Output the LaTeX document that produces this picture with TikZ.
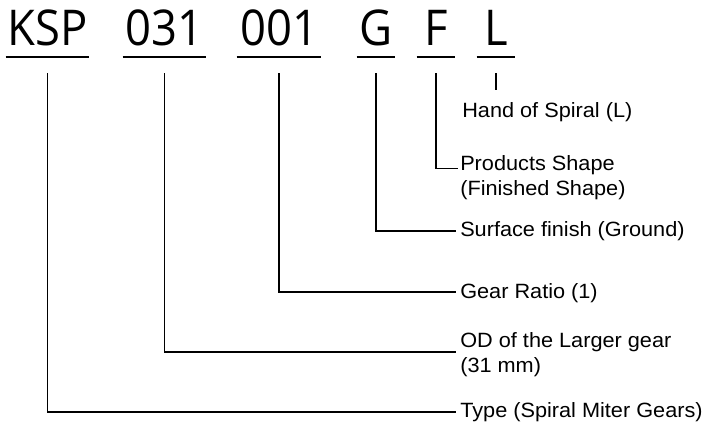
\documentclass[tikz,border=0pt]{standalone}
\usepackage{fontspec}
\setmainfont{Liberation Sans}[FakeStretch=1.05]
\newfontfamily\codefont[FakeStretch=0.92]{Open Sans}
\usepackage{tikz}

\tikzset{
  code/.style={anchor=base, inner xsep=0pt, inner ysep=0pt,
    font=\codefont\fontsize{37}{40}\selectfont},
  uline/.style={line width=0.9pt},
  lead/.style={line width=0.8pt},
  desc/.style={anchor=base west, inner sep=0pt, align=left,
    font=\fontsize{15.5}{18.75}\selectfont}
}

\begin{document}
\begin{tikzpicture}[x=0.75pt, y=-0.75pt]
                    \useasboundingbox (0,0) rectangle (709,425);

                    % Draw code parts
                    \node[code, minimum width=62.25pt] (ksp) at (47.5,45) {KSP};
                    \node[code, minimum width=62.25pt] (od) at (164.5,45) {031};
                    \node[code, minimum width=63pt] (ratio) at (279,45) {001};
                    \node[code, minimum width=28.5pt] (fin) at (376,45) {G};
                    \node[code, minimum width=28.5pt] (shape) at (436,45) {F};
                    \node[code, minimum width=28.5pt] (hand) at (496,45) {L};

                    % Draw underlines
                    \foreach \part in {ksp,od,ratio,fin,shape,hand}
                      \draw[uline] ([yshift=-9pt]\part.base west) -- ([yshift=-9pt]\part.base east);

                    % Draw descriptions
                    \node[desc] (handtxt) at (462,117) {Hand of Spiral (L)};
                    \node[desc] (shapetxt) at (460,195) {Products Shape\\(Finished Shape)};
                    \node[desc] (fintxt) at (460,236) {Surface finish (Ground)};
                    \node[desc] (ratiotxt) at (460,298) {Gear Ratio (1)};
                    \node[desc] (odtxt) at (460,372) {OD of the Larger gear\\(31 mm)};
                    \node[desc] (ksptxt) at (460,417) {Type (Spiral Miter Gears)};

                    % Draw leader lines
                    \draw[lead] ([yshift=-21pt]hand.base) -- ([yshift=-33.75pt]hand.base);
                    \draw[lead] ([yshift=-21pt]shape.base) |- ([shift={(-2,-26.5)}]shapetxt.base west);
                    \draw[lead] ([yshift=-21pt]fin.base) |- ([shift={(-4,-5)}]fintxt.base west);
                    \draw[lead] ([yshift=-21pt]ratio.base) |- ([shift={(-4,-6)}]ratiotxt.base west);
                    \draw[lead] ([yshift=-21pt]od.base) |- ([shift={(-4,-20)}]odtxt.base west);
                    \draw[lead] ([yshift=-21pt]ksp.base) |- ([shift={(-4,-5)}]ksptxt.base west);
                \end{tikzpicture}
\end{document}
